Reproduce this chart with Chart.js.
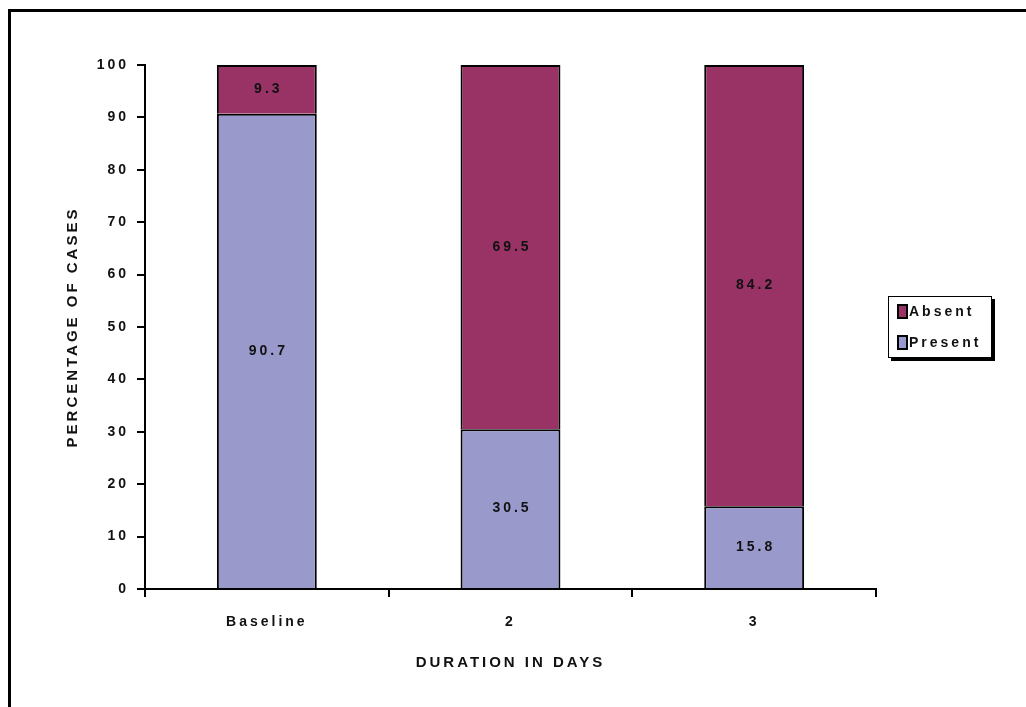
<!DOCTYPE html>
<html>
<head>
<meta charset="utf-8">
<script src="https://cdn.jsdelivr.net/npm/chart.js@4.4.1/dist/chart.umd.min.js"></script>
<style>
  html, body { margin: 0; padding: 0; background: #fff; }
  #wrap { position: relative; width: 1026px; height: 707px; overflow: hidden; background: #fff; }
  #frame { position: absolute; left: 8px; top: 9px; right: -20px; bottom: -20px;
           border-top: 3px solid #000; border-left: 3px solid #000; }
  #chart { position: absolute; left: 0; top: 0; }
  #legend { position: absolute; left: 888px; top: 296px; width: 102px; height: 60px;
            border: 1px solid #000; box-shadow: 3px 3px 0 #000; background: #fff;
            font: bold 14px "Liberation Sans", Arial, sans-serif; letter-spacing: 3px; color: #111; }
  .item { position: absolute; left: 8px; height: 16px; line-height: 16px; white-space: nowrap; }
  .swatch { display: inline-block; width: 7px; height: 11px; border: 2px solid #000;
            vertical-align: -3px; margin-right: 1px; letter-spacing: 0; }
</style>
</head>
<body>
<div id="wrap">
  <div id="frame"></div>
  <canvas id="chart" width="1026" height="707"></canvas>
  <div id="legend"></div>
</div>
<script>
// Share of cases with the sign present / absent at each visit
const categories = ['Baseline', '2', '3'];
const presentValues = [90.7, 30.5, 15.8];
const absentValues = [9.3, 69.5, 84.2];
const yTicks = [0, 10, 20, 30, 40, 50, 60, 70, 80, 90, 100];

const FONT = 'Liberation Sans, Arial, sans-serif';
const PRESENT_COLOR = '#9999cc';
const ABSENT_COLOR = '#993366';

// Letter spacing for every canvas string
const spacing = {
  id: 'spacing',
  beforeDraw(chart) { chart.ctx.letterSpacing = '3px'; }
};

// Value written in the middle of each stacked segment
const segmentLabels = {
  id: 'segmentLabels',
  afterDatasetsDraw(chart) {
    const ctx = chart.ctx;
    ctx.save();
    ctx.letterSpacing = '3px';
    ctx.font = 'bold 14px ' + FONT;
    ctx.fillStyle = '#111';
    ctx.textAlign = 'center';
    ctx.textBaseline = 'middle';
    chart.data.datasets.forEach((ds, i) => {
      chart.getDatasetMeta(i).data.forEach((bar, j) => {
        const p = bar.getProps(['x', 'y', 'base'], true);
        ctx.fillText(String(ds.data[j]), p.x + 1.5, (p.y + p.base) / 2);
      });
    });
    ctx.restore();
  }
};

const chart = new Chart(document.getElementById('chart'), {
  type: 'bar',
  data: {
    labels: categories,
    datasets: [
      { label: 'Present', data: presentValues, backgroundColor: PRESENT_COLOR,
        borderColor: '#000', borderWidth: 2, borderSkipped: 'start' },
      { label: 'Absent', data: absentValues, backgroundColor: ABSENT_COLOR,
        borderColor: '#000', borderWidth: 2, borderSkipped: 'start' }
    ]
  },
  options: {
    responsive: false,
    animation: false,
    devicePixelRatio: 1,
    layout: { padding: { left: 60, right: 150, top: 65, bottom: 30 } },
    datasets: { bar: { barPercentage: 0.41, categoryPercentage: 1 } },
    plugins: { legend: { display: false }, tooltip: { enabled: false }, title: { display: false } },
    scales: {
      x: {
        stacked: true,
        afterFit(scale) { scale.height = 88; },
        border: { display: true, color: '#000', width: 2 },
        grid: { offset: true, drawOnChartArea: false, drawTicks: true, tickLength: 8,
                color: '#000', lineWidth: 2 },
        ticks: { color: '#111', padding: 17, font: { family: FONT, size: 14, weight: 'bold' } },
        title: { display: true, text: 'DURATION IN DAYS', color: '#111',
                 font: { family: FONT, size: 15, weight: 'bold' }, padding: { top: 0, bottom: 5 } }
      },
      y: {
        stacked: true,
        min: 0, max: 100,
        afterFit(scale) { scale.width = 85; },
        afterBuildTicks(scale) { scale.ticks = yTicks.map(v => ({ value: v })); },
        border: { display: true, color: '#000', width: 2 },
        grid: { drawOnChartArea: false, drawTicks: true, tickLength: 8, color: '#000', lineWidth: 2 },
        ticks: { color: '#111', padding: 8, font: { family: FONT, size: 14, weight: 'bold' } },
        title: { display: true, text: 'PERCENTAGE OF CASES', color: '#111',
                 font: { family: FONT, size: 15, weight: 'bold' }, padding: { top: 4, bottom: 0 } }
      }
    }
  },
  plugins: [spacing, segmentLabels]
});

// Legend: top dataset listed first
const legend = document.getElementById('legend');
chart.data.datasets.slice().reverse().forEach((ds, k) => {
  const item = document.createElement('div');
  item.className = 'item';
  item.style.top = (6 + k * 31) + 'px';
  const sw = document.createElement('span');
  sw.className = 'swatch';
  sw.style.background = ds.backgroundColor;
  item.appendChild(sw);
  item.appendChild(document.createTextNode(ds.label));
  legend.appendChild(item);
});
</script>
</body>
</html>
